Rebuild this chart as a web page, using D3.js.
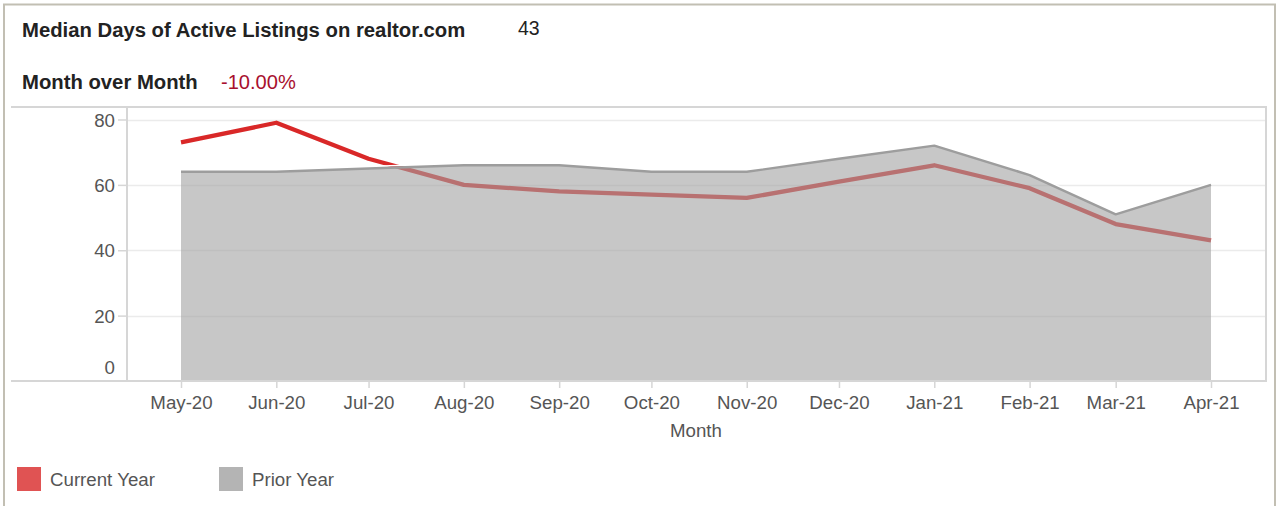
<!DOCTYPE html>
<html>
<head>
<meta charset="utf-8">
<script src="https://cdn.jsdelivr.net/npm/d3@7"></script>
<style>
  html, body { margin: 0; padding: 0; background: #fff; }
  svg { display: block; font-family: "Liberation Sans", Arial, sans-serif; }
</style>
</head>
<body>
<svg id="chart" width="1281" height="506"></svg>
<script>
// ---- data ----
const months = ["2020-05-01","2020-06-01","2020-07-01","2020-08-01","2020-09-01","2020-10-01",
                "2020-11-01","2020-12-01","2021-01-01","2021-02-01","2021-03-01","2021-04-01"];
const monthLabels = ["May-20","Jun-20","Jul-20","Aug-20","Sep-20","Oct-20",
                     "Nov-20","Dec-20","Jan-21","Feb-21","Mar-21","Apr-21"];
const currentYear = [73, 79, 68, 60, 58, 57, 56, 61, 66, 59, 48, 43];
const priorYear   = [64, 64, 65, 66, 66, 64, 64, 68, 72, 63, 51, 60];
const yTicks = [0, 20, 40, 60, 80];
const titleText = "Median Days of Active Listings on realtor.com";
const titleValue = "43";
const momLabel = "Month over Month";
const momValue = "-10.00%";
const seriesNames = ["Current Year", "Prior Year"];
const xAxisTitle = "Month";

// ---- layout ----
const svg = d3.select("#chart");
const parse = d3.timeParse("%Y-%m-%d");
const dates = months.map(parse);

const plot = { left: 127, right: 1266, top: 107, bottom: 381, boxLeft: 11 };
const x = d3.scaleTime().domain([dates[0], dates[dates.length - 1]]).range([181, 1211]);
const y = d3.scaleLinear().domain([0, 80]).range([plot.bottom, 119.5]);
const axisFont = 18.7;

// outer frame
svg.append("path")
  .attr("d", `M4,506 L4,4.5 L1275,4.5 L1275,506`)
  .attr("fill", "none").attr("stroke", "#c2bfb3").attr("stroke-width", 2);

// header texts
svg.append("text").attr("x", 22).attr("y", 37)
  .attr("font-size", 20.3).attr("font-weight", "bold").attr("fill", "#222")
  .text(titleText);
svg.append("text").attr("x", 518).attr("y", 35)
  .attr("font-size", 19.5).attr("fill", "#222")
  .text(titleValue);
svg.append("text").attr("x", 22).attr("y", 89)
  .attr("font-size", 20.3).attr("font-weight", "bold").attr("fill", "#222")
  .text(momLabel);
svg.append("text").attr("x", 221).attr("y", 89)
  .attr("font-size", 20.1).attr("fill", "#a8102e")
  .text(momValue);

// gridlines
svg.append("g").selectAll("line")
  .data(yTicks.filter(d => d > 0))
  .join("line")
  .attr("x1", plot.left).attr("x2", plot.right)
  .attr("y1", d => Math.round(y(d)) + 0.5).attr("y2", d => Math.round(y(d)) + 0.5)
  .attr("stroke", "#ebebeb").attr("stroke-width", 1.5);

// current year line (drawn beneath the semi-transparent area)
const series = dates.map((d, i) => ({ date: d, cur: currentYear[i], prior: priorYear[i] }));
svg.append("path")
  .datum(series)
  .attr("fill", "none")
  .attr("stroke", "#d92828")
  .attr("stroke-width", 4.3)
  .attr("stroke-linejoin", "round")
  .attr("d", d3.line().x(d => x(d.date)).y(d => y(d.cur)));

// prior year area
svg.append("path")
  .datum(series)
  .attr("fill", "#a2a2a2")
  .attr("fill-opacity", 0.6)
  .attr("d", d3.area().x(d => x(d.date)).y0(y(0)).y1(d => y(d.prior)));

// area outline: white halo + grey line
svg.append("path")
  .datum(series)
  .attr("fill", "none").attr("stroke", "#ffffff").attr("stroke-width", 1.6)
  .attr("stroke-linecap", "round").attr("stroke-linejoin", "round")
  .attr("d", d3.line().x(d => x(d.date)).y(d => y(d.prior) - 2));
svg.append("path")
  .datum(series)
  .attr("fill", "none").attr("stroke", "#9d9d9d").attr("stroke-width", 2.4)
  .attr("stroke-linejoin", "round")
  .attr("d", d3.line().x(d => x(d.date)).y(d => y(d.prior)));

// box lines
const boxColor = "#d6d6d6";
svg.append("line").attr("x1", plot.boxLeft).attr("x2", plot.right + 1)
  .attr("y1", plot.top).attr("y2", plot.top).attr("stroke", boxColor).attr("stroke-width", 2);
svg.append("line").attr("x1", plot.boxLeft).attr("x2", plot.right + 1)
  .attr("y1", plot.bottom).attr("y2", plot.bottom).attr("stroke", boxColor).attr("stroke-width", 2);
svg.append("line").attr("x1", plot.right).attr("x2", plot.right)
  .attr("y1", plot.top).attr("y2", plot.bottom).attr("stroke", boxColor).attr("stroke-width", 2);
svg.append("line").attr("x1", plot.left).attr("x2", plot.left)
  .attr("y1", plot.top).attr("y2", plot.bottom).attr("stroke", boxColor).attr("stroke-width", 2);

// y axis
const yAxis = svg.append("g")
  .attr("transform", `translate(${plot.left},0)`)
  .call(d3.axisLeft(y).tickValues(yTicks).tickSize(9).tickPadding(3).tickFormat(d3.format("d")));
yAxis.select(".domain").remove();
yAxis.selectAll(".tick line").attr("stroke", "#d6d6d6").attr("stroke-width", 1.5);
yAxis.selectAll(".tick text")
  .attr("font-size", axisFont).attr("fill", "#555").attr("font-family", "Liberation Sans, Arial, sans-serif")
  .attr("dy", d => d === 0 ? "-0.4em" : "0.35em");
yAxis.selectAll(".tick").filter(d => d === 0).select("line").remove();

// x axis
const xAxis = svg.append("g")
  .attr("transform", `translate(0,${plot.bottom})`)
  .call(d3.axisBottom(x).tickValues(dates).tickSize(7).tickPadding(8)
    .tickFormat((d, i) => monthLabels[i]));
xAxis.select(".domain").remove();
xAxis.selectAll(".tick line").attr("stroke", "#d6d6d6").attr("stroke-width", 1.5);
xAxis.selectAll(".tick text")
  .attr("font-size", axisFont).attr("fill", "#555").attr("font-family", "Liberation Sans, Arial, sans-serif");

svg.append("text").attr("x", 696).attr("y", 437)
  .attr("text-anchor", "middle").attr("font-size", axisFont).attr("fill", "#555")
  .text(xAxisTitle);

// legend
const legendColors = ["#e05353", "#b4b4b4"];
const legendX = [17, 219];
const lg = svg.append("g").selectAll("g")
  .data(seriesNames)
  .join("g")
  .attr("transform", (d, i) => `translate(${legendX[i]},467)`);
lg.append("rect").attr("width", 24).attr("height", 24).attr("fill", (d, i) => legendColors[i]);
lg.append("text").attr("x", 33).attr("y", 19).attr("font-size", axisFont).attr("fill", "#555").text(d => d);
</script>
</body>
</html>
